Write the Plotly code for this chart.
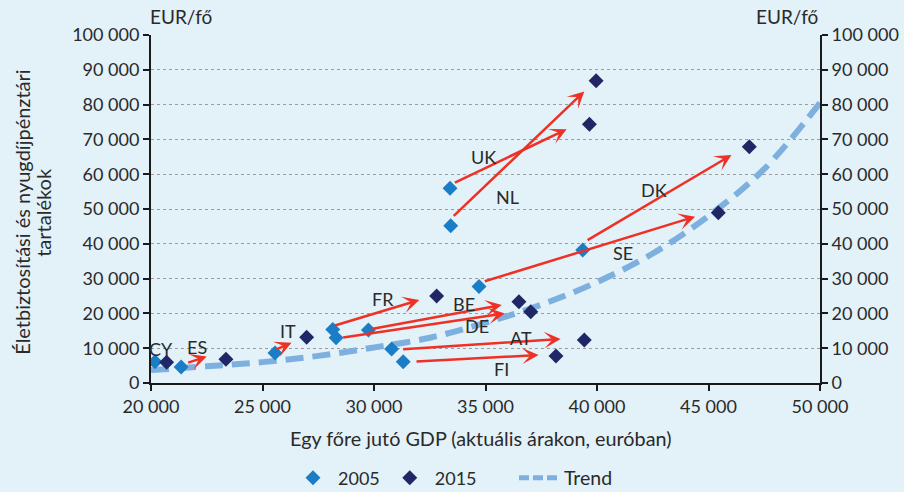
import plotly.graph_objects as go

# ---------------- data ----------------
gdp_2005 = [20180, 21350, 25560, 28150, 28300, 29750, 30790, 31310, 34710, 33410, 33440, 39360]
res_2005 = [6100, 4600, 8600, 15400, 13000, 15200, 9770, 6120, 27700, 55950, 45200, 38200]

gdp_2015 = [20700, 23360, 26980, 32810, 36500, 37030, 39430, 38160, 39960, 39660, 46830, 45440]
res_2015 = [5950, 6800, 13130, 25000, 23360, 20500, 12360, 7760, 86870, 74330, 67900, 48940]

trend_x = [20000, 22500, 25000, 27500, 30000, 32500, 35000, 37500, 40000, 42500, 45000, 47500, 50000]
trend_y = [3700, 4800, 6000, 7800, 10200, 13000, 17300, 22500, 29000, 37200, 48000, 61500, 80500]

# arrows: country, tail (x, y), head (x, y)
arrow_country = ["ES", "IT", "FR", "BE", "DE", "AT", "FI", "UK", "NL", "DK", "SE"]
arrow_tail_x = [21600, 25560, 28180, 29820, 28550, 31240, 31840, 33560, 33510, 39510, 34900]
arrow_tail_y = [5700, 9500, 16400, 15430, 13030, 9670, 6120, 57400, 47600, 40800, 29100]
arrow_head_x = [22500, 26300, 32030, 35730, 35870, 38370, 37380, 38640, 39430, 46030, 44400]
arrow_head_y = [7600, 11600, 23850, 22410, 20000, 12640, 8050, 72900, 83800, 65500, 47800]

label_text = ["CY", "ES", "IT", "FR", "BE", "DE", "AT", "FI", "UK", "NL", "DK", "SE"]
label_x = [20440, 22050, 26130, 30420, 34030, 34600, 36590, 35700, 34900, 35980, 42560, 41150]
label_y = [9700, 10430, 15030, 24050, 22610, 16380, 12840, 3940, 65030, 53360, 55460, 37440]

y_ticks = list(range(0, 100001, 10000))
x_ticks = list(range(20000, 50001, 5000))

# ---------------- styles ----------------
BG = "#E3F1F9"
TXT = "#2a2a2a"
C2005 = "#1B7DC6"
C2015 = "#1F2766"
CTREND = "#7DB0DE"
CARROW = "#EE3124"
FONT = "Lato"

fig = go.Figure()

fig.add_trace(go.Scatter(
    x=trend_x, y=trend_y, mode="lines", name="Trend", showlegend=False,
    legendgroup="trend",
    line=dict(color=CTREND, width=6, dash="18px,9px", shape="spline"),
    hoverinfo="skip"))

fig.add_trace(go.Scatter(
    x=gdp_2005, y=res_2005, mode="markers", name="2005",
    marker=dict(symbol="diamond", size=11.5, color=C2005)))

fig.add_trace(go.Scatter(
    x=gdp_2015, y=res_2015, mode="markers", name="2015",
    marker=dict(symbol="diamond", size=11.5, color=C2015)))

# legend-only entry for the trend (shorter dashes like the original key)
fig.add_trace(go.Scatter(
    x=[None], y=[None], mode="lines", name="Trend", legend="legend2",
    legendgroup="trend",
    line=dict(color=CTREND, width=5, dash="10px,4px"), hoverinfo="skip"))

# invisible trace for the right axis
fig.add_trace(go.Scatter(
    x=[trend_x[0]], y=[trend_y[0]], yaxis="y2", mode="markers",
    marker=dict(opacity=0), showlegend=False, hoverinfo="skip"))

annotations = []
for c, tx, ty, hx, hy in zip(arrow_country, arrow_tail_x, arrow_tail_y, arrow_head_x, arrow_head_y):
    annotations.append(dict(
        x=hx, y=hy, ax=tx, ay=ty, xref="x", yref="y", axref="x", ayref="y",
        showarrow=True, arrowhead=3, arrowsize=1.1, arrowwidth=2.5,
        arrowcolor=CARROW, text=""))

for t, lx, ly in zip(label_text, label_x, label_y):
    annotations.append(dict(
        x=lx, y=ly, xref="x", yref="y", text=t, showarrow=False,
        font=dict(family=FONT, size=18, color=TXT)))

annotations += [
    dict(x=(181 - 151) / 669, y=1.052, xref="paper", yref="paper", text="EUR/fő", showarrow=False,
         font=dict(family=FONT, size=19, color=TXT), xanchor="center", yanchor="middle"),
    dict(x=(787 - 151) / 669, y=1.052, xref="paper", yref="paper", text="EUR/fő", showarrow=False,
         font=dict(family=FONT, size=19, color=TXT), xanchor="center", yanchor="middle"),
    dict(x=(22 - 151) / 669, y=0.489, xref="paper", yref="paper",
         text="Életbiztosítási és nyugdíjpénztári", textangle=-90,
         showarrow=False, font=dict(family=FONT, size=20, color=TXT),
         xanchor="center", yanchor="middle"),
    dict(x=(43 - 151) / 669, y=0.489, xref="paper", yref="paper",
         text="tartalékok", textangle=-90,
         showarrow=False, font=dict(family=FONT, size=20, color=TXT),
         xanchor="center", yanchor="middle"),
    dict(x=(480 - 151) / 669, y=(383 - 437.5) / 348, xref="paper", yref="paper",
         text="Egy főre jutó GDP (aktuális árakon, euróban)", showarrow=False,
         font=dict(family=FONT, size=19.8, color=TXT), xanchor="center", yanchor="middle"),
]

axis_common = dict(showline=True, linecolor="#1a1a1a", linewidth=2,
                   ticks="outside", ticklen=6, tickwidth=2, tickcolor="#1a1a1a",
                   tickfont=dict(family=FONT, size=18, color=TXT),
                   zeroline=False, tickformat=",")

legend_common = dict(orientation="h", yanchor="middle", y=(383 - 478) / 348,
                     xanchor="left", bgcolor="rgba(0,0,0,0)", itemwidth=40)

fig.update_layout(
    width=904, height=492,
    paper_bgcolor=BG, plot_bgcolor=BG,
    separators=", ",
    margin=dict(l=151, r=84, t=35, b=109, autoexpand=False),
    xaxis=dict(range=[20000, 50000], tickvals=x_ticks, showgrid=False, **axis_common),
    yaxis=dict(range=[0, 100000], tickvals=y_ticks, showgrid=True,
               gridcolor="#9c9c9c", griddash="dot", gridwidth=1, **axis_common),
    yaxis2=dict(range=[0, 100000], tickvals=y_ticks, overlaying="y", side="right",
                showgrid=False, **axis_common),
    legend=dict(x=(288 - 151) / 669, traceorder="normal",
                font=dict(family=FONT, size=18, color=TXT), **legend_common),
    legend2=dict(x=(514 - 151) / 669,
                 font=dict(family=FONT, size=19.5, color=TXT), **legend_common),
    annotations=annotations,
    showlegend=True,
)

fig.write_html("out.html", config={"displayModeBar": False},
               post_script="document.body.style.margin='0';document.body.style.background='%s';" % BG)
